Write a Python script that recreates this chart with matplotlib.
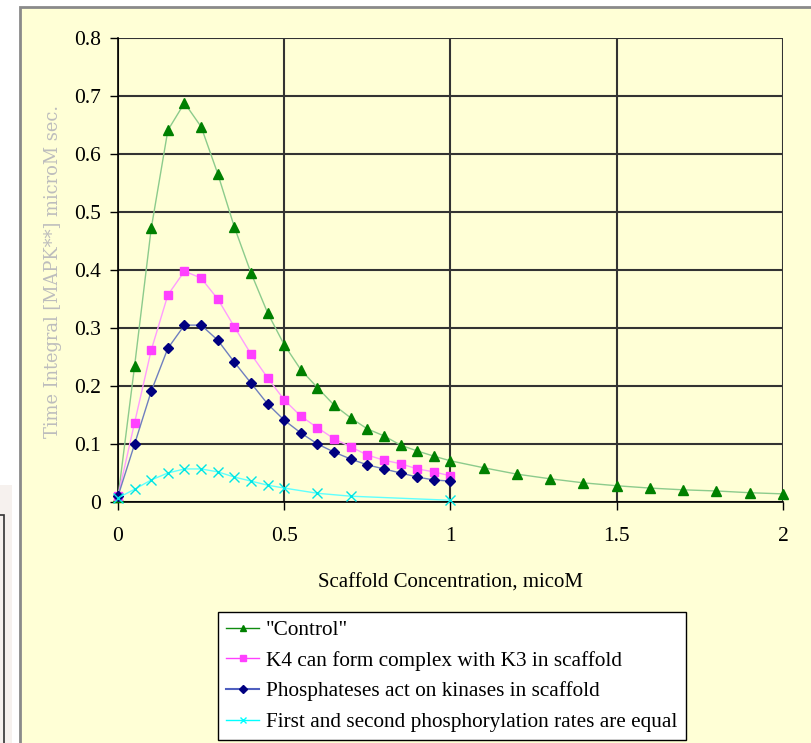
import numpy as np
import matplotlib.pyplot as plt
from matplotlib.lines import Line2D
from matplotlib.patches import Rectangle

plt.rcParams['font.family'] = ['Liberation Serif', 'DejaVu Serif']

# --- data ---
x_control = [0, 0.05, 0.1, 0.15, 0.2, 0.25, 0.3, 0.35, 0.4, 0.45, 0.5, 0.55, 0.6, 0.65,
             0.7, 0.75, 0.8, 0.85, 0.9, 0.95, 1.0, 1.1, 1.2, 1.3, 1.4, 1.5, 1.6, 1.7,
             1.8, 1.9, 2.0]
y_control = [0.008, 0.235, 0.472, 0.641, 0.688, 0.647, 0.566, 0.474, 0.395, 0.326, 0.271,
             0.228, 0.197, 0.167, 0.145, 0.126, 0.114, 0.098, 0.088, 0.079, 0.071, 0.059,
             0.048, 0.040, 0.033, 0.028, 0.024, 0.021, 0.019, 0.016, 0.014]

x_k4 = [0, 0.05, 0.1, 0.15, 0.2, 0.25, 0.3, 0.35, 0.4, 0.45, 0.5, 0.55, 0.6, 0.65,
        0.7, 0.75, 0.8, 0.85, 0.9, 0.95, 1.0]
y_k4 = [0.010, 0.137, 0.262, 0.357, 0.398, 0.386, 0.350, 0.302, 0.255, 0.214, 0.176,
        0.148, 0.128, 0.109, 0.095, 0.081, 0.072, 0.066, 0.057, 0.052, 0.045]

x_phos = x_k4
y_phos = [0.010, 0.100, 0.191, 0.265, 0.305, 0.305, 0.279, 0.241, 0.205, 0.169, 0.141,
          0.119, 0.100, 0.086, 0.074, 0.064, 0.057, 0.050, 0.043, 0.038, 0.036]

x_equal = [0, 0.05, 0.1, 0.15, 0.2, 0.25, 0.3, 0.35, 0.4, 0.45, 0.5, 0.6, 0.7, 1.0]
y_equal = [0.007, 0.022, 0.038, 0.050, 0.057, 0.057, 0.052, 0.043, 0.036, 0.029, 0.024,
           0.015, 0.010, 0.003]

labels = ['"Control"', 'K4 can form complex with K3 in scaffold',
          'Phosphateses act on kinases in scaffold',
          'First and second phosphorylation rates are equal']

bg = '#FFFFD6'

fig = plt.figure(figsize=(8.12, 7.43), dpi=100)
fig.patch.set_facecolor('white')
# faint remnant of a neighbouring window on the left edge
fig.patches.append(Rectangle((0, -0.01), 12 / 812, 1 - 485 / 743 + 0.01,
                             transform=fig.transFigure, facecolor='#F6F1EE',
                             edgecolor='none', zorder=-6))
fig.patches.append(Rectangle((-0.01, -0.01), 0.01 + 4 / 812, 1 - 515 / 743 + 0.01,
                             transform=fig.transFigure, facecolor='none',
                             edgecolor='#333333', linewidth=1.2, zorder=-6))
# yellow chart panel behind everything
fig.patches.append(Rectangle((20 / 812, -0.01), 1.0, 1 - 7 / 743 + 0.01,
                             transform=fig.transFigure, facecolor=bg,
                             edgecolor='#8a8a8a', linewidth=2, zorder=-5))

ax = fig.add_axes([118 / 812, 1 - 502 / 743, 665 / 812, 464 / 743])
ax.set_facecolor(bg)

ax.plot(x_control, y_control, color='#8CCB8C', lw=1, marker='^', ms=7,
        mfc='#008000', mec='#008000', clip_on=False, zorder=3)
ax.plot(x_k4, y_k4, color='#FF9CFF', lw=1, marker='s', ms=6,
        mfc='#FF40FF', mec='#FF40FF', clip_on=False, zorder=4)
ax.plot(x_phos, y_phos, color='#6F7FBF', lw=1, marker='D', ms=5.5,
        mfc='#000080', mec='#000080', clip_on=False, zorder=5)
ax.plot(x_equal, y_equal, color='#60FFFF', lw=1, marker='x', ms=7,
        mfc='#00E5E5', mec='#00E5E5', mew=1, clip_on=False, zorder=6)

ax.set_xlim(0, 2)
ax.set_ylim(0, 0.8)
ax.set_xticks([0, 0.5, 1, 1.5, 2])
ax.set_xticklabels(['0', '0.5', '1', '1.5', '2'])
ax.set_yticks(np.arange(0, 0.81, 0.1))
ax.set_yticklabels(['0', '0.1', '0.2', '0.3', '0.4', '0.5', '0.6', '0.7', '0.8'])
ax.tick_params(axis='both', direction='out', length=6, width=1, color='black',
               labelsize=15.5, pad=6)
ax.tick_params(axis='x', pad=12)
ax.grid(True, color='#333333', lw=1.5)
ax.set_axisbelow(True)
for s in ['top', 'right']:
    ax.spines[s].set_visible(False)
for s in ['left', 'bottom']:
    ax.spines[s].set_color('black')
    ax.spines[s].set_linewidth(1.2)

ax.set_xlabel('Scaffold Concentration, micoM', fontsize=15, labelpad=20)
ax.set_ylabel('Time Integral [MAPK**] microM sec.', fontsize=12.9, color='#BDBDBD',
              family=['DejaVu Serif'])
ax.yaxis.set_label_coords(-0.084, 0.496)

handles = [
    Line2D([], [], color='#108C10', lw=1, marker='^', ms=5, mfc='#008000', mec='#008000'),
    Line2D([], [], color='#FF40FF', lw=1, marker='s', ms=4, mfc='#FF40FF', mec='#FF40FF'),
    Line2D([], [], color='#4F5FBF', lw=1.5, marker='D', ms=4, mfc='#000080', mec='#000080'),
    Line2D([], [], color='#00FFFF', lw=1, marker='x', ms=5, mfc='#00FFFF', mec='#00FFFF'),
]
leg = fig.legend(handles, labels, loc='upper left',
                 bbox_to_anchor=(218 / 812, 1 - 612 / 743), fontsize=15.3,
                 frameon=True, fancybox=False, edgecolor='black', framealpha=1,
                 handlelength=1.55, handletextpad=0.3, labelspacing=0.5,
                 borderpad=0.4, borderaxespad=0)
leg.get_frame().set_linewidth(1)

fig.savefig('out.png', dpi=100, facecolor=fig.get_facecolor())
